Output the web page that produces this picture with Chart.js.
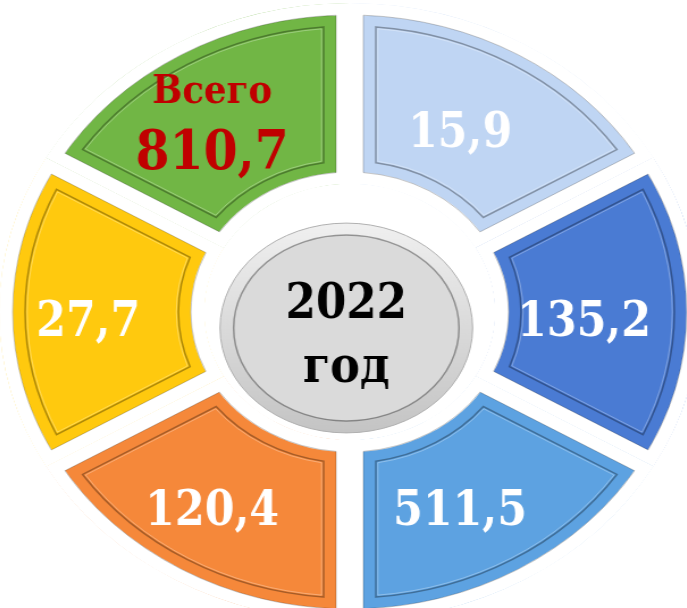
<!DOCTYPE html>
<html lang="ru">
<head>
<meta charset="utf-8">
<title>2022 год</title>
<script src="https://cdn.jsdelivr.net/npm/chart.js@4"></script>
<style>
  html, body { margin: 0; padding: 0; background: #fff; overflow: hidden; }
  body { width: 687px; height: 608px; position: relative; }
  /* the ring is drawn round and then stretched sideways */
  #wrap { position: absolute; left: -1px; top: 3px; width: 618px; height: 618px;
          transform: scaleX(1.135); transform-origin: 0 0; }
</style>
</head>
<body>
<div id="wrap"><canvas id="cycleChart"></canvas></div>
<script>
// sectors clockwise from the top right one
const sectorValues   = [15.9, 135.2, 511.5, 120.4, 27.7, 810.7];
const sectorCaptions = ['', '', '', '', '', 'Всего'];
const sectorShare    = [1, 1, 1, 1, 1, 1];   // all sectors are the same size
const centerLines    = ['2022', 'год'];

const sectorColors = ['#BFD5F3', '#4A7BD3', '#5DA2E1', '#F5883A', '#FFC90E', '#71B645'];

const STRETCH = 1.135;   // must match the scaleX on #wrap
const GAP = 12;          // white inner border, half of the gap between sectors
const TEXT_WIDEN = 0.89;
const FONT = '"DejaVu Serif", serif';
const LABEL_SHIFT = { x: -12, y: 7 };

const fmt = v => v.toFixed(1).replace('.', ',');

// outline of the visible part of a sector, pulled in by `inset`
function sectorPath(ctx, arc, inset) {
  const d = GAP + inset;
  const ro = arc.outerRadius - d;
  const ri = arc.innerRadius + d;
  const ao = Math.asin(d / ro);
  const ai = Math.asin(d / ri);
  ctx.beginPath();
  ctx.arc(arc.x, arc.y, ro, arc.startAngle + ao, arc.endAngle - ao);
  ctx.arc(arc.x, arc.y, ri, arc.endAngle - ai, arc.startAngle + ai, true);
  ctx.closePath();
}

// text is squeezed back so the stretch does not widen it
function drawText(ctx, text, x, y, font, color) {
  ctx.save();
  ctx.translate(x, y);
  ctx.scale(TEXT_WIDEN / STRETCH, 1);
  ctx.font = font;
  ctx.fillStyle = color;
  ctx.textAlign = 'center';
  ctx.textBaseline = 'alphabetic';
  ctx.fillText(text, 0, 0);
  ctx.restore();
}

const ringDecor = {
  id: 'ringDecor',
  afterDatasetsDraw(chart) {
    const ctx = chart.ctx;
    const arcs = chart.getDatasetMeta(0).data;

    // bevel lines on each sector
    arcs.forEach(arc => {
      ctx.save();
      sectorPath(ctx, arc, 0);
      ctx.strokeStyle = 'rgba(0,0,0,0.22)';
      ctx.lineWidth = 1;
      ctx.stroke();
      sectorPath(ctx, arc, 11);
      ctx.strokeStyle = 'rgba(0,0,0,0.32)';
      ctx.lineWidth = 1.5;
      ctx.stroke();
      sectorPath(ctx, arc, 12.8);
      ctx.strokeStyle = 'rgba(255,255,255,0.3)';
      ctx.lineWidth = 1;
      ctx.stroke();
      ctx.restore();
    });

    // values
    arcs.forEach((arc, i) => {
      const mid = (arc.startAngle + arc.endAngle) / 2;
      const r = (arc.innerRadius + arc.outerRadius) / 2;
      const lx = arc.x + Math.cos(mid) * r + LABEL_SHIFT.x;
      const ly = arc.y + Math.sin(mid) * r + LABEL_SHIFT.y;
      if (sectorCaptions[i]) {
        drawText(ctx, sectorCaptions[i], lx, ly - 27, `bold 40px ${FONT}`, '#C00000');
        drawText(ctx, fmt(sectorValues[i]), lx, ly + 39, `bold 55px ${FONT}`, '#C00000');
      } else {
        drawText(ctx, fmt(sectorValues[i]), lx, ly + 17, `bold 48px ${FONT}`, '#FFFFFF');
      }
    });

    // grey disc in the middle
    const a0 = arcs[0];
    const cx = a0.x - 3;
    const cy = a0.y + 16;
    const rx = a0.innerRadius * 0.87;
    const ry = a0.innerRadius * 0.82;
    ctx.save();
    const g = ctx.createLinearGradient(0, cy - ry, 0, cy + ry);
    g.addColorStop(0, '#F0F0F0');
    g.addColorStop(1, '#C4C4C4');
    ctx.beginPath();
    ctx.ellipse(cx, cy, rx, ry, 0, 0, Math.PI * 2);
    ctx.fillStyle = g;
    ctx.fill();
    ctx.strokeStyle = '#B0B0B0';
    ctx.lineWidth = 1;
    ctx.stroke();
    ctx.beginPath();
    ctx.ellipse(cx, cy, rx - 12, ry - 12, 0, 0, Math.PI * 2);
    ctx.fillStyle = '#DADADA';
    ctx.fill();
    ctx.strokeStyle = 'rgba(0,0,0,0.35)';
    ctx.lineWidth = 1.5;
    ctx.stroke();
    ctx.restore();

    drawText(ctx, centerLines[0], cx, cy - 10, `bold 49px ${FONT}`, '#000000');
    drawText(ctx, centerLines[1], cx, cy + 54, `bold 50px ${FONT}`, '#000000');
  }
};

new Chart(document.getElementById('cycleChart'), {
  type: 'doughnut',
  data: {
    labels: sectorValues.map((v, i) => (sectorCaptions[i] ? sectorCaptions[i] + ' ' : '') + fmt(v)),
    datasets: [{
      data: sectorShare,
      backgroundColor: sectorColors,
      borderColor: '#FFFFFF',
      borderWidth: GAP,
      borderAlign: 'inner',
      hoverOffset: 0
    }]
  },
  options: {
    responsive: true,
    maintainAspectRatio: false,
    animation: false,
    events: [],
    cutout: '41.4%',
    rotation: 0,
    layout: { padding: 0 },
    plugins: {
      legend: { display: false },
      tooltip: { enabled: false }
    }
  },
  plugins: [ringDecor]
});
</script>
</body>
</html>
